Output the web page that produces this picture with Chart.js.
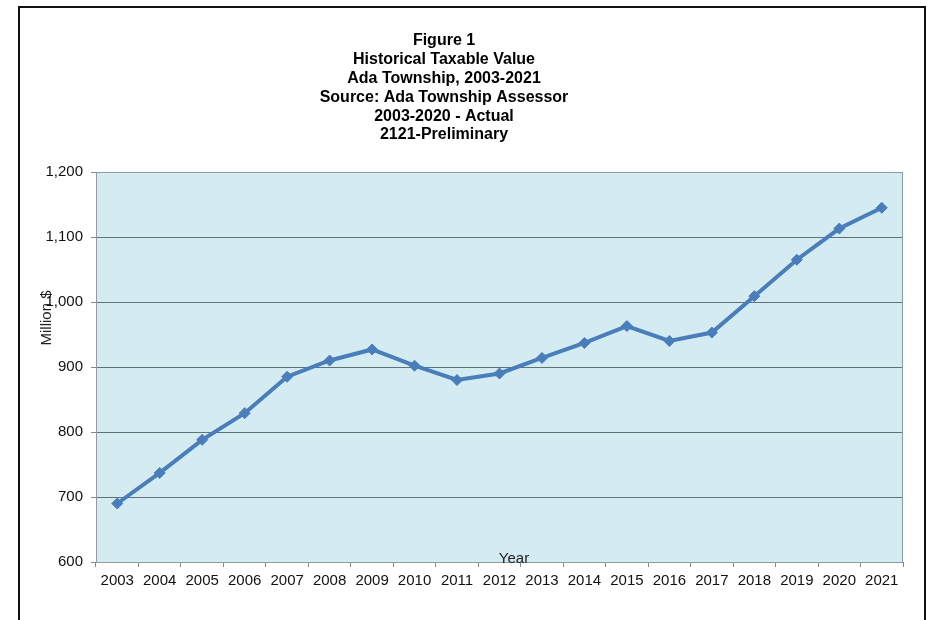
<!DOCTYPE html>
<html>
<head>
<meta charset="utf-8">
<title>Historical Taxable Value</title>
<script src="https://cdn.jsdelivr.net/npm/chart.js@4/dist/chart.umd.min.js"></script>
<style>
  html, body { margin: 0; padding: 0; background: #fff; }
  #wrap { width: 932px; height: 620px; }
</style>
</head>
<body>
<div id="wrap"><canvas id="myChart" width="932" height="620"></canvas></div>
<script>
// data (million $)
var years = ['2003', '2004', '2005', '2006', '2007', '2008', '2009', '2010', '2011', '2012',
             '2013', '2014', '2015', '2016', '2017', '2018', '2019', '2020', '2021']
var taxableValue = [690, 737, 788, 829, 885, 910, 927, 902, 880, 890,
                    914, 937, 963, 940, 953, 1009, 1065, 1113, 1145]
var titleLines = ['Figure 1', 'Historical Taxable Value', 'Ada Township, 2003-2021',
                  'Source: Ada Township Assessor', '2003-2020 - Actual', '2121-Preliminary']
var yTitle = 'Million $'
var xTitle = 'Year'

var FONT = "'Liberation Sans', Arial, sans-serif"
var lineColor = '#4a7ebb'

// frame, plot background and the odd-positioned texts
var decorations = {
  id: 'decorations',
  beforeDraw: function(chart) {
    var ctx = chart.ctx, a = chart.chartArea
    ctx.save()
    ctx.fillStyle = '#d3ebf1'
    ctx.fillRect(a.left, a.top, a.right - a.left, a.bottom - a.top)
    ctx.strokeStyle = '#111'
    ctx.lineWidth = 2
    ctx.strokeRect(19, 7, 906, 640)
    ctx.restore()
  },
  beforeDatasetsDraw: function(chart) {
    var ctx = chart.ctx, a = chart.chartArea
    ctx.save()
    ctx.strokeStyle = '#8d9ca0'
    ctx.lineWidth = 1
    ctx.strokeRect(a.left + 0.5, a.top + 0.5, a.right - a.left - 1, a.bottom - a.top)
    ctx.restore()
  },
  afterDraw: function(chart) {
    var ctx = chart.ctx
    ctx.save()
    ctx.fillStyle = '#000'
    ctx.textAlign = 'center'
    ctx.textBaseline = 'middle'
    ctx.font = 'bold 16px ' + FONT
    titleLines.forEach(function(t, i) {
      ctx.fillText(t, 444, 41 + i * 18.8)
    })
    ctx.font = '15px ' + FONT
    ctx.fillStyle = '#222'
    ctx.fillText(xTitle, 514, 559)
    ctx.translate(47, 318)
    ctx.rotate(-Math.PI / 2)
    ctx.fillText(yTitle, 0, 0)
    ctx.restore()
  }
}

var ctx = document.getElementById('myChart').getContext('2d')
var myChart = new Chart(ctx, {
  type: 'line',
  data: {
    labels: years,
    datasets: [{
      data: taxableValue,
      borderColor: lineColor,
      backgroundColor: lineColor,
      borderWidth: 4,
      tension: 0,
      pointStyle: 'rectRot',
      pointRadius: 5.5,
      pointBackgroundColor: lineColor,
      pointBorderColor: lineColor,
      pointBorderWidth: 1
    }]
  },
  options: {
    responsive: false,
    animation: false,
    devicePixelRatio: 1,
    layout: {padding: {top: 172, left: 0, right: 29, bottom: 0}},
    plugins: {legend: {display: false}, tooltip: {enabled: false}, title: {display: false}},
    scales: {
      x: {
        offset: true,
        afterFit: function(scale) { scale.height = 58 },
        grid: {drawOnChartArea: false, drawTicks: true, tickLength: 5, color: '#8a8a8a', offset: true},
        border: {color: '#6f7b7e', width: 1},
        ticks: {color: '#111', font: {family: FONT, size: 15}, padding: 5, maxRotation: 0, autoSkip: false}
      },
      y: {
        min: 600,
        max: 1200,
        afterFit: function(scale) { scale.width = 96 },
        grid: {color: '#607478', lineWidth: 1, drawTicks: true, tickLength: 5, tickColor: '#8a8a8a'},
        border: {color: '#6f7b7e', width: 1},
        ticks: {stepSize: 100, color: '#111', font: {family: FONT, size: 15}, padding: 8}
      }
    }
  },
  plugins: [decorations]
})
</script>
</body>
</html>
